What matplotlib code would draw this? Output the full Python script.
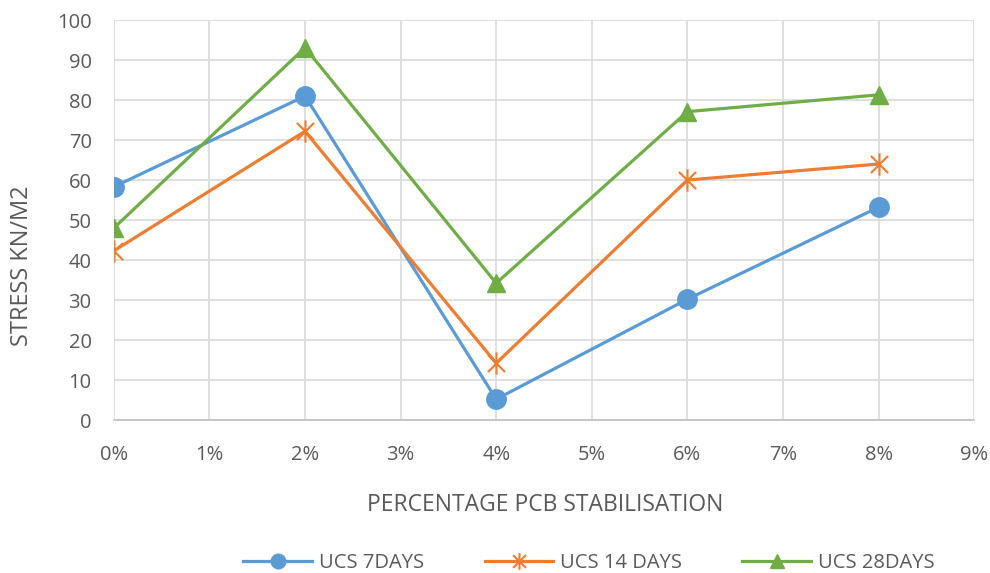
import numpy as np
import matplotlib.pyplot as plt
from matplotlib.path import Path
from matplotlib.ticker import MultipleLocator, FuncFormatter

plt.rcParams['font.family'] = ['Open Sans', 'DejaVu Sans']

# data
pcb = [0, 2, 4, 6, 8]   # percent
ucs_7 = [58.3, 81, 5.2, 30.2, 53.2]
ucs_14 = [42.3, 72.2, 14.2, 60, 64]
ucs_28 = [48, 93.1, 34.2, 77.1, 81.3]
labels = ['UCS 7DAYS', 'UCS 14 DAYS', 'UCS 28DAYS']

# excel-like star: an x with a vertical bar
star = Path([(-1, -1), (1, 1), (-1, 1), (1, -1), (0, -1.3), (0, 1.3)],
            [Path.MOVETO, Path.LINETO, Path.MOVETO, Path.LINETO, Path.MOVETO, Path.LINETO])

grey = '#595959'
fig = plt.figure(figsize=(9.9, 5.73), dpi=100)
ax = fig.add_axes([0.115, 0.267, 0.869, 0.698])

ax.plot(pcb, ucs_7, color='#5B9BD5', lw=2.3, marker='o', ms=14, label=labels[0])
ax.plot(pcb, ucs_14, color='#ED7D31', lw=2.3, marker=star, ms=16, mew=1.5,
        label=labels[1])
ax.plot(pcb, ucs_28, color='#70AD47', lw=2.3, marker='^', ms=13.5, label=labels[2])

ax.set_xlim(0, 9)
ax.set_ylim(0, 100)
ax.xaxis.set_major_locator(MultipleLocator(1))
ax.yaxis.set_major_locator(MultipleLocator(10))
ax.xaxis.set_major_formatter(FuncFormatter(lambda v, p: '%d%%' % round(v)))
ax.grid(True, color='#d9d9d9', lw=1.2)
ax.set_axisbelow(True)
for s in ['top', 'right', 'left']:
    ax.spines[s].set_visible(False)
ax.spines['bottom'].set_color('#bfbfbf')
ax.spines['bottom'].set_linewidth(1.2)
ax.tick_params(length=0, labelsize=14.5, labelcolor=grey)
ax.tick_params(axis='x', pad=18)
ax.tick_params(axis='y', pad=16)

fig.text(0.5505, 0.1187, 'PERCENTAGE PCB STABILISATION', fontsize=16.5, color=grey,
         ha='center', va='center')
fig.text(0.0222, 0.5358, 'STRESS KN/M2', fontsize=17, color=grey, rotation=90,
         ha='center', va='center')

leg = fig.legend(loc='center', ncol=3, frameon=False, fontsize=14.5,
                 bbox_to_anchor=(0.595, 0.0175), handlelength=3.4,
                 handletextpad=0.35, columnspacing=3.0, markerscale=0.75)
for t in leg.get_texts():
    t.set_color(grey)

plt.savefig('out.png', dpi=100)
